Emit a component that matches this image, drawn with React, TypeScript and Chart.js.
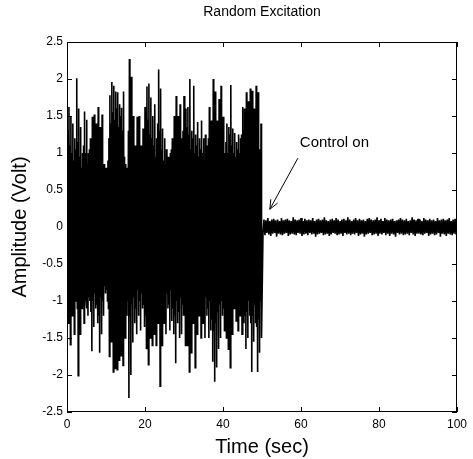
import React, { useEffect, useRef } from "react";
import { Chart, registerables } from "chart.js";

Chart.register(...registerables);

// Sampling of the recorded signal (sec)
const excitationStep = 0.125;
const controlStart = 50.25;
const controlStep = 0.25;

// Random excitation before control (t = 0 .. 50 s): per 0.5 s, max/min pairs
const excitation: number[] = [
  1.31, -1.05, 0.95, -1.30,  1.62, -0.90, 1.10, -1.59,  1.49, -1.15, 1.00, -1.20,  1.40, -0.95, 0.90, -1.45,
  1.20, -1.00, 1.05, -1.00,  2.01, -1.10, 1.15, -2.01,  1.60, -0.85, 0.95, -1.45,  1.35, -1.05, 0.80, -1.10,
  1.00, -0.90, 1.10, -1.30,  1.56, -0.80, 1.00, -0.95,  1.45, -1.10, 0.85, -1.20,  1.00, -0.95, 1.05, -1.00,
  1.20, -1.15, 0.90, -1.68,  1.49, -1.00, 1.20, -1.35,  1.52, -0.90, 1.00, -1.10,  1.40, -1.05, 0.95, -1.30,
  1.62, -1.20, 1.10, -1.70,  1.35, -0.95, 0.85, -1.45,  1.52, -1.00, 0.75, -1.20,  0.85, -0.80, 0.70, -0.90,
  0.80, -0.85, 0.75, -1.00,  0.90, -1.10, 1.20, -1.75,  1.78, -1.30, 1.40, -1.55,  1.96, -1.45, 1.55, -1.96,
  1.91, -1.50, 1.45, -1.91,  1.83, -1.35, 1.60, -1.93,  1.82, -1.40, 1.35, -1.80,  1.66, -1.25, 1.50, -1.74,
  1.61, -1.40, 1.30, -1.87,  1.83, -1.10, 0.95, -1.50,  0.85, -0.90, 0.80, -1.20,  0.70, -1.00, 1.30, -2.31,
  2.27, -1.20, 1.50, -2.00,  2.03, -1.05, 1.10, -1.56,  1.50, -0.95, 1.00, -1.30,  1.10, -1.10, 0.90, -1.45,
  1.49, -0.85, 1.05, -1.20,  1.50, -1.00, 0.85, -1.40,  1.10, -0.90, 1.00, -1.10,  1.33, -1.05, 1.15, -1.35,
  1.62, -1.20, 1.30, -1.64,  1.90, -1.35, 1.45, -1.86,  1.94, -1.15, 1.25, -1.50,  1.75, -1.30, 1.20, -1.60,
  1.50, -1.05, 1.10, -1.45,  1.66, -1.10, 0.95, -1.60,  1.20, -0.95, 1.40, -1.30,  2.13, -1.25, 1.30, -2.15,
  1.87, -1.10, 1.05, -1.60,  1.33, -0.95, 0.90, -1.30,  1.20, -1.00, 0.85, -1.45,  1.05, -0.90, 0.95, -1.10,
  0.95, -1.05, 0.80, -1.40,  1.00, -0.85, 1.05, -1.27,  1.20, -1.10, 1.15, -1.45,  1.50, -1.20, 1.25, -1.84,
  1.77, -1.00, 1.10, -1.30,  1.50, -1.15, 1.20, -1.50,  1.66, -0.95, 1.00, -1.45,  1.20, -1.05, 1.30, -1.20,
  1.77, -1.20, 1.15, -1.60,  1.60, -1.10, 1.35, -1.60,  1.62, -1.30, 1.25, -1.96,  2.00, -1.15, 1.05, -1.70,
  1.30, -1.00, 1.20, -1.30,  1.91, -1.25, 1.00, -1.90,  1.25, -0.95, 1.10, -1.45,  1.42, -1.05, 0.95, -1.20,
  1.20, -1.10, 1.05, -1.50,  1.44, -0.90, 1.00, -1.30,  1.20, -1.05, 0.90, -1.50,  1.25, -0.95, 1.00, -1.20,
  1.10, -1.10, 1.20, -1.50,  1.62, -1.00, 1.15, -1.40,  1.44, -1.25, 1.30, -1.82,  2.00, -1.40, 1.45, -2.09,
  1.83, -1.30, 1.20, -1.90,  1.44, -1.15, 1.35, -1.65,  1.73, -1.05, 1.40, -1.50,  1.91, -1.00, 1.10, -1.20,
  1.49, -1.10, 0.85, -1.40,  1.00, -1.05, 1.15, -1.50,  1.40, -1.20, 1.00, -1.65,  1.35, -1.30, 1.25, -1.90,
  1.92, -1.05, 1.10, -1.45,  1.33, -0.90, 1.00, -1.10,  1.27, -1.00, 0.95, -1.27,  1.15, -1.05, 1.05, -1.40,
  1.25, -0.95, 1.00, -1.20,  1.20, -1.10, 1.25, -1.45,  1.62, -1.05, 1.30, -1.30,  1.60, -1.20, 1.40, -1.65,
  1.82, -1.15, 1.35, -1.50,  1.70, -1.00, 1.45, -1.20,  1.87, -1.30, 1.40, -1.96,  1.84, -1.20, 1.25, -1.55,
  1.60, -1.05, 1.30, -1.30,  1.91, -1.35, 1.20, -1.96,  1.82, -1.25, 0.90, -1.70,  1.05, -1.00, 1.40, -1.50,
];

// Residual vibration after control is switched on (t = 50.25 .. 100 s)
const controlled: number[] = [
  -0.09, 0.10, -0.11, 0.09, -0.08, 0.12, -0.10, 0.08, -0.12, 0.10,
  -0.09, 0.11, -0.08, 0.09, -0.13, 0.10, -0.09, 0.08, -0.10, 0.12,
  -0.11, 0.09, -0.09, 0.10, -0.08, 0.11, -0.12, 0.09, -0.10, 0.08,
  -0.09, 0.13, -0.10, 0.10, -0.11, 0.09, -0.08, 0.10, -0.09, 0.12,
  -0.12, 0.08, -0.10, 0.11, -0.09, 0.09, -0.11, 0.10, -0.08, 0.09,
  -0.10, 0.12, -0.09, 0.08, -0.13, 0.10, -0.10, 0.11, -0.09, 0.09,
  -0.08, 0.10, -0.11, 0.13, -0.10, 0.09, -0.09, 0.08, -0.12, 0.10,
  -0.10, 0.11, -0.08, 0.09, -0.09, 0.12, -0.11, 0.10, -0.10, 0.08,
  -0.09, 0.10, -0.12, 0.11, -0.08, 0.09, -0.10, 0.13, -0.09, 0.10,
  -0.11, 0.08, -0.09, 0.10, -0.10, 0.12, -0.08, 0.09, -0.12, 0.11,
  -0.10, 0.09, -0.09, 0.10, -0.13, 0.08, -0.10, 0.11, -0.09, 0.12,
  -0.08, 0.10, -0.11, 0.09, -0.10, 0.10, -0.09, 0.13, -0.12, 0.09,
  -0.09, 0.11, -0.10, 0.08, -0.08, 0.12, -0.11, 0.10, -0.09, 0.09,
  -0.12, 0.10, -0.09, 0.11, -0.10, 0.08, -0.13, 0.09, -0.08, 0.10,
  -0.10, 0.12, -0.09, 0.10, -0.11, 0.09, -0.10, 0.11, -0.09, 0.08,
  -0.11, 0.09, -0.08, 0.13, -0.10, 0.10, -0.12, 0.09, -0.09, 0.11,
  -0.09, 0.10, -0.10, 0.08, -0.11, 0.12, -0.09, 0.10, -0.08, 0.09,
  -0.12, 0.11, -0.10, 0.09, -0.09, 0.10, -0.11, 0.08, -0.10, 0.12,
  -0.08, 0.09, -0.13, 0.10, -0.09, 0.11, -0.10, 0.09, -0.12, 0.10,
  -0.09, 0.12, -0.10, 0.08, -0.11, 0.10, -0.09, 0.11, -0.10, 0.09,
];

const xTicks = [0, 20, 40, 60, 80, 100];
const yTicks = [-2.5, -2, -1.5, -1, -0.5, 0, 0.5, 1, 1.5, 2, 2.5];

const titleText = "Random Excitation";
const xLabel = "Time (sec)";
const yLabel = "Amplitude (Volt)";
const annotationText = "Control on";
// annotation anchor points in data units
const annotationTextAt = { x: 59.7, y: 1.135 };
const arrowFrom = { x: 59.2, y: 0.93 };
const arrowTo = { x: 52.0, y: 0.24 };

const FONT = "'Liberation Sans', Arial, Helvetica, sans-serif";

const boxPlugin = {
  id: "matlabBox",
  afterDatasetsDraw(chart: any) {
    const { ctx, chartArea, scales } = chart;
    const { left, right, top, bottom } = chartArea;
    ctx.save();
    ctx.strokeStyle = "#000";
    ctx.lineWidth = 1;
    ctx.strokeRect(left + 0.5, top + 0.5, right - left - 1, bottom - top - 1);
    const tl = 5;
    ctx.beginPath();
    for (const v of xTicks) {
      const px = Math.round(scales.x.getPixelForValue(v)) + 0.5;
      ctx.moveTo(px, bottom);
      ctx.lineTo(px, bottom - tl);
      ctx.moveTo(px, top);
      ctx.lineTo(px, top + tl);
    }
    for (const v of yTicks) {
      const py = Math.round(scales.y.getPixelForValue(v)) + 0.5;
      ctx.moveTo(left, py);
      ctx.lineTo(left + tl, py);
      ctx.moveTo(right, py);
      ctx.lineTo(right - tl, py);
    }
    ctx.stroke();

    // annotation
    const tx = scales.x.getPixelForValue(annotationTextAt.x);
    const ty = scales.y.getPixelForValue(annotationTextAt.y);
    ctx.fillStyle = "#000";
    ctx.font = `15px ${FONT}`;
    ctx.textAlign = "left";
    ctx.textBaseline = "middle";
    ctx.fillText(annotationText, tx, ty);

    const x1 = scales.x.getPixelForValue(arrowFrom.x);
    const y1 = scales.y.getPixelForValue(arrowFrom.y);
    const x2 = scales.x.getPixelForValue(arrowTo.x);
    const y2 = scales.y.getPixelForValue(arrowTo.y);
    ctx.beginPath();
    ctx.moveTo(x1, y1);
    ctx.lineTo(x2, y2);
    const ang = Math.atan2(y2 - y1, x2 - x1);
    const hl = 10;
    const ha = 0.4;
    ctx.moveTo(x2, y2);
    ctx.lineTo(x2 - hl * Math.cos(ang - ha), y2 - hl * Math.sin(ang - ha));
    ctx.moveTo(x2, y2);
    ctx.lineTo(x2 - hl * Math.cos(ang + ha), y2 - hl * Math.sin(ang + ha));
    ctx.stroke();
    ctx.restore();
  },
};

export default function App() {
  const canvasRef = useRef<HTMLCanvasElement | null>(null);

  useEffect(() => {
    if (!canvasRef.current) return;
    Chart.defaults.color = "#000";
    Chart.defaults.font.family = FONT;

    const points: { x: number; y: number }[] = [];
    excitation.forEach((v, i) => points.push({ x: i * excitationStep, y: v }));
    controlled.forEach((v, i) => points.push({ x: controlStart + i * controlStep, y: v }));

    const chart = new Chart(canvasRef.current, {
      type: "line",
      data: {
        datasets: [
          {
            data: points,
            borderColor: "#000",
            borderWidth: 1.6,
            pointRadius: 0,
            tension: 0,
            fill: false,
          },
        ],
      },
      options: {
        animation: false,
        responsive: false,
        devicePixelRatio: 1,
        events: [],
        layout: { padding: { left: 0, right: 16, top: 0, bottom: 0 } },
        plugins: {
          legend: { display: false },
          tooltip: { enabled: false },
          title: {
            display: true,
            text: titleText,
            color: "#000",
            fullSize: false,
            font: { size: 14, family: FONT, weight: "normal" },
            padding: { top: 3.6, bottom: 21.6 },
          },
        },
        scales: {
          x: {
            type: "linear",
            min: 0,
            max: 100,
            afterBuildTicks: (s: any) => {
              s.ticks = xTicks.map((v) => ({ value: v }));
            },
            afterFit: (s: any) => {
              s.height = 47;
            },
            grid: { display: false, drawTicks: false },
            border: { display: false },
            ticks: {
              color: "#000",
              font: { size: 12, family: FONT },
              padding: 5,
              maxRotation: 0,
              autoSkip: false,
              callback: (v: any) => String(v),
            },
            title: {
              display: true,
              text: xLabel,
              color: "#000",
              font: { size: 20, family: FONT },
              padding: { top: 0, bottom: 0 },
            },
          },
          y: {
            type: "linear",
            min: -2.5,
            max: 2.5,
            afterBuildTicks: (s: any) => {
              s.ticks = yTicks.map((v) => ({ value: v }));
            },
            afterFit: (s: any) => {
              s.width = 67;
            },
            grid: { display: false, drawTicks: false },
            border: { display: false },
            ticks: {
              color: "#000",
              font: { size: 12, family: FONT },
              padding: 4,
              autoSkip: false,
              callback: (v: any) => String(v),
            },
            title: {
              display: true,
              text: yLabel,
              color: "#000",
              font: { size: 20, family: FONT },
              padding: { top: 8, bottom: 0 },
            },
          },
        },
      },
      plugins: [boxPlugin],
    } as any);

    return () => chart.destroy();
  }, []);

  return (
    <div style={{ position: "absolute", left: 0, top: 0, width: 473, height: 459, background: "#fff" }}>
      <canvas ref={canvasRef} width={473} height={459} style={{ display: "block", width: 473, height: 459 }} />
    </div>
  );
}
